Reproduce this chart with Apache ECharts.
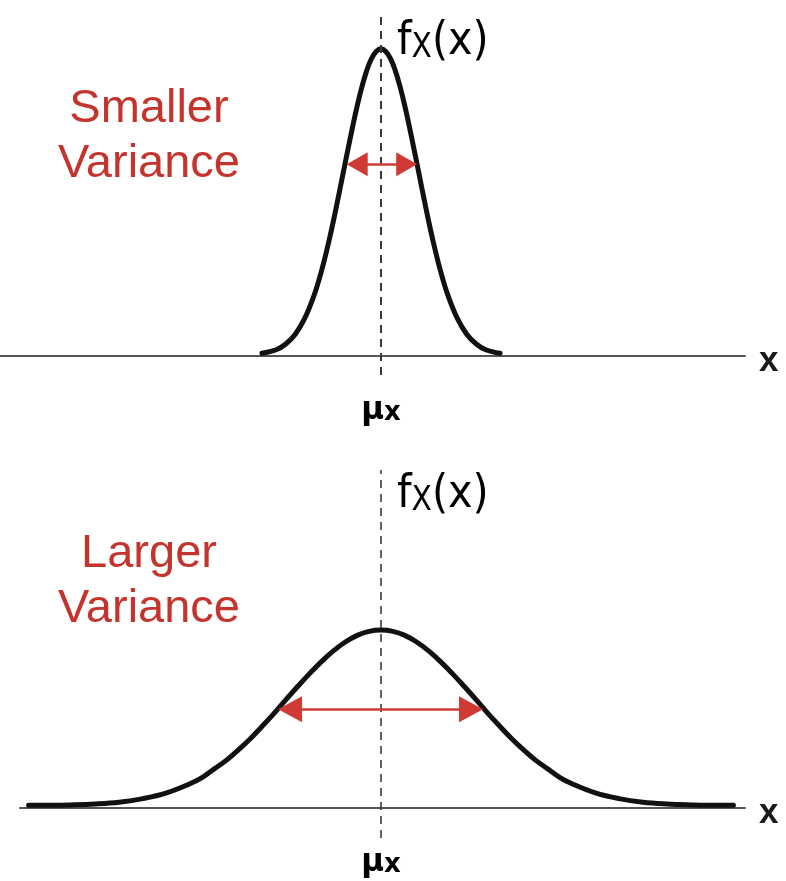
<!DOCTYPE html>
<html>
<head>
<meta charset="utf-8">
<script src="https://cdn.jsdelivr.net/npm/echarts@6/dist/echarts.min.js"></script>
<style>
  html, body { margin: 0; padding: 0; background: #ffffff; }
  #chart { width: 786px; height: 881px; }
</style>
</head>
<body>
<div id="chart"></div>
<script>
// Narrow density (smaller variance): x positions and heights
const narrowX = [-1.25, -1.1, -1.0, -0.9, -0.8, -0.7, -0.65, -0.6, -0.55, -0.5, -0.45, -0.4, -0.35, -0.3, -0.25, -0.2, -0.15, -0.1, -0.05, 0,
                 0.05, 0.1, 0.15, 0.2, 0.25, 0.3, 0.35, 0.4, 0.45, 0.5, 0.55, 0.6, 0.65, 0.7, 0.8, 0.9, 1.0, 1.1, 1.25];
const narrowY = [0.006, 0.014, 0.027, 0.049, 0.085, 0.138, 0.172, 0.211, 0.255, 0.303, 0.355, 0.408, 0.461, 0.513, 0.562, 0.605, 0.641, 0.668, 0.684, 0.690,
                 0.684, 0.668, 0.641, 0.605, 0.562, 0.513, 0.461, 0.408, 0.355, 0.303, 0.255, 0.211, 0.172, 0.138, 0.085, 0.049, 0.027, 0.014, 0.006];

// Wide density (larger variance)
const wideX = [-3.7, -3.5, -3.25, -3.0, -2.75, -2.5, -2.25, -2.0, -1.875, -1.75, -1.625, -1.5, -1.375, -1.25, -1.125, -1.0,
               -0.875, -0.75, -0.625, -0.5, -0.375, -0.25, -0.125, 0,
               0.125, 0.25, 0.375, 0.5, 0.625, 0.75, 0.875,
               1.0, 1.125, 1.25, 1.375, 1.5, 1.625, 1.75, 1.875, 2.0, 2.25, 2.5, 2.75, 3.0, 3.25, 3.5, 3.7];
const wideY = [0.006, 0.006, 0.007, 0.009, 0.013, 0.021, 0.034, 0.055, 0.069, 0.088, 0.107, 0.130, 0.155, 0.183, 0.212, 0.243,
               0.273, 0.302, 0.329, 0.353, 0.373, 0.388, 0.397, 0.400,
               0.397, 0.388, 0.373, 0.353, 0.329, 0.302, 0.273,
               0.243, 0.212, 0.183, 0.155, 0.130, 0.107, 0.088, 0.069, 0.055, 0.034, 0.021, 0.013, 0.009, 0.007, 0.006, 0.006];

// Mean of both densities
const meanX = 0;

// Spread arrows: [left end, right end] and the height they sit at
const narrowSpread = [-0.25, 0.27];
const narrowSpreadLevel = 0.431;
const wideSpread = [-0.955, 0.945];
const wideSpreadLevel = 0.222;

// Panel texts
const panelTitles = [['Smaller', 'Variance'], ['Larger', 'Variance']];
const axisName = 'x';

const zip = (xs, ys) => xs.map((x, i) => [x, ys[i]]);

const RED = '#c4342d';
const ARROW_RED = '#d03a34';
const INK = '#111111';

function axisX(gridIndex, min) {
  return {
    gridIndex, type: 'value', min, max: 3.8215,
    axisLine: { show: true, onZero: true, lineStyle: { color: '#555555', width: 2 } },
    axisTick: { show: false }, axisLabel: { show: false }, splitLine: { show: false },
    name: axisName, nameLocation: 'end', nameGap: 14,
    nameTextStyle: { fontFamily: 'Liberation Sans', fontWeight: 'bold', fontSize: 35, color: '#1a1a1a', verticalAlign: 'top', lineHeight: 10 }
  };
}

function axisY(gridIndex, min, max) {
  return { gridIndex, type: 'value', min, max, show: false, splitLine: { show: false } };
}

function curveSeries(idx, data, dashWidth) {
  return {
    type: 'line', xAxisIndex: idx, yAxisIndex: idx, data,
    smooth: 0.4, showSymbol: false, silent: true,
    lineStyle: { color: INK, width: 5, cap: 'round', join: 'round' },
    markLine: {
      silent: true, symbol: 'none', animation: false,
      label: { show: false },
      lineStyle: { type: [8, 6], color: '#3a3a3a', width: dashWidth },
      data: [{ xAxis: meanX }]
    },
    z: 3
  };
}

function arrowSeries(idx, spread, level, size) {
  return {
    type: 'line', xAxisIndex: idx, yAxisIndex: idx, data: [],
    markLine: {
      silent: true, animation: false,
      symbol: ['triangle', 'triangle'], symbolSize: size,
      label: { show: false },
      lineStyle: { type: 'solid', color: ARROW_RED, width: 2.5 },
      itemStyle: { color: ARROW_RED },
      data: [[{ coord: [spread[0], level] }, { coord: [spread[1], level] }]]
    },
    z: 4
  };
}

const titleFont = { fontFamily: 'Liberation Sans', fontSize: 47, fill: RED, align: 'center', verticalAlign: 'middle' };

function titleText(text, y) {
  return { type: 'text', x: 149, y, style: Object.assign({ text }, titleFont), z: 10 };
}

const fRich = {
  f: { fontFamily: 'Liberation Sans Narrow, DejaVu Sans Condensed, sans-serif', fontSize: 46, lineHeight: 52, verticalAlign: 'bottom', color: '#222222' },
  s: { fontFamily: 'Liberation Sans Narrow, DejaVu Sans Condensed, sans-serif', fontSize: 33, lineHeight: 37, verticalAlign: 'bottom', color: '#222222' }
};
const muRich = {
  m: { fontFamily: 'DejaVu Sans', fontSize: 31, lineHeight: 37, verticalAlign: 'bottom', color: '#1a1a1a', fontWeight: 'bold' },
  s: { fontFamily: 'DejaVu Sans', fontSize: 26, lineHeight: 32, verticalAlign: 'bottom', color: '#1a1a1a', fontWeight: 'bold' }
};

function densityLabel(y) {
  return { type: 'text', x: 397, y, style: { text: '{f|f}{s|X}{f|(x)}', rich: fRich, verticalAlign: 'middle' }, z: 10 };
}
function meanLabel(y) {
  return { type: 'text', x: 381, y, style: { text: '{m|μ}{s|x}', rich: muRich, align: 'center', verticalAlign: 'middle' }, z: 10 };
}

const option = {
  animation: false,
  backgroundColor: '#ffffff',
  grid: [
    { left: 0, right: 41, top: 15, bottom: 506 },
    { left: 20, right: 41, top: 470, bottom: 43 }
  ],
  xAxis: [axisX(0, -4.0), axisX(1, -3.79)],
  yAxis: [axisY(0, -0.0427, 0.766), axisY(1, -0.0674, 0.7596)],
  series: [
    curveSeries(0, zip(narrowX, narrowY), 2),
    curveSeries(1, zip(wideX, wideY), 1.6),
    arrowSeries(0, narrowSpread, narrowSpreadLevel, [24, 21]),
    arrowSeries(1, wideSpread, wideSpreadLevel, [26, 24])
  ],
  graphic: [
    titleText(panelTitles[0][0], 109),
    titleText(panelTitles[0][1], 164),
    titleText(panelTitles[1][0], 554),
    titleText(panelTitles[1][1], 609),
    densityLabel(39),
    densityLabel(492),
    meanLabel(408),
    meanLabel(860)
  ]
};

const chart = echarts.init(document.getElementById('chart'), null, { renderer: 'canvas' });
chart.setOption(option);
</script>
</body>
</html>
